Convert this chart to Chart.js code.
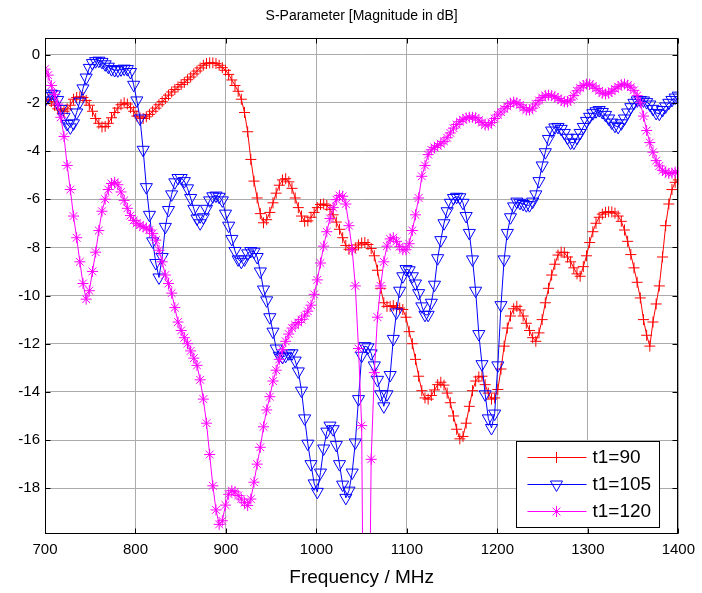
<!DOCTYPE html>
<html>
<head>
<meta charset="utf-8">
<title>S-Parameter</title>
<script src="https://cdn.jsdelivr.net/npm/chart.js@4.4.1/dist/chart.umd.min.js"></script>
<style>
  html, body { margin: 0; padding: 0; background: #fff; }
  #caixa { width: 702px; height: 593px; position: relative; }
</style>
</head>
<body>
<div id="caixa"><canvas id="grafico"></canvas></div>
<script>
// frequency sweep, MHz
const frequencias = [
  700, 703.5, 707, 710.5, 714, 717.5, 721, 724.5, 728, 731.5,
  735, 738.5, 742, 745.5, 749, 752.5, 756, 759.5, 763, 766.5,
  770, 773.5, 777, 780.5, 784, 787.5, 791, 794.5, 798, 801.5,
  805, 808.5, 812, 815.5, 819, 822.5, 826, 829.5, 833, 836.5,
  840, 843.5, 847, 850.5, 854, 857.5, 861, 864.5, 868, 871.5,
  875, 878.5, 882, 885.5, 889, 892.5, 896, 899.5, 903, 906.5,
  910, 913.5, 917, 920.5, 924, 927.5, 931, 934.5, 938, 941.5,
  945, 948.5, 952, 955.5, 959, 962.5, 966, 969.5, 973, 976.5,
  980, 983.5, 987, 990.5, 994, 997.5, 1001, 1004.5, 1008, 1011.5,
  1015, 1018.5, 1022, 1025.5, 1029, 1032.5, 1036, 1039.5, 1043, 1046.5,
  1050, 1053.5, 1057, 1060.5, 1064, 1067.5, 1071, 1074.5, 1078, 1081.5,
  1085, 1088.5, 1092, 1095.5, 1099, 1102.5, 1106, 1109.5, 1113, 1116.5,
  1120, 1123.5, 1127, 1130.5, 1134, 1137.5, 1141, 1144.5, 1148, 1151.5,
  1155, 1158.5, 1162, 1165.5, 1169, 1172.5, 1176, 1179.5, 1183, 1186.5,
  1190, 1193.5, 1197, 1200.5, 1204, 1207.5, 1211, 1214.5, 1218, 1221.5,
  1225, 1228.5, 1232, 1235.5, 1239, 1242.5, 1246, 1249.5, 1253, 1256.5,
  1260, 1263.5, 1267, 1270.5, 1274, 1277.5, 1281, 1284.5, 1288, 1291.5,
  1295, 1298.5, 1302, 1305.5, 1309, 1312.5, 1316, 1319.5, 1323, 1326.5,
  1330, 1333.5, 1337, 1340.5, 1344, 1347.5, 1351, 1354.5, 1358, 1361.5,
  1365, 1368.5, 1372, 1375.5, 1379, 1382.5, 1386, 1389.5, 1393, 1396.5,
  1400
];

// |S| in dB for t1 = 90
const t90 = [
  -1.9, -1.85, -1.95, -2.1, -2.25, -2.3, -2.35, -2.25, -2.1, -1.85,
  -1.78, -1.75, -1.78, -1.9, -2.1, -2.35, -2.65, -2.85, -3.0, -2.98,
  -2.85, -2.62, -2.4, -2.22, -2.08, -2.0, -2.05, -2.2, -2.35, -2.55,
  -2.63, -2.65, -2.58, -2.48, -2.35, -2.22, -2.08, -1.95, -1.82, -1.68,
  -1.55, -1.45, -1.34, -1.24, -1.15, -1.04, -0.93, -0.8, -0.68, -0.55,
  -0.44, -0.37, -0.34, -0.34, -0.37, -0.44, -0.54, -0.65, -0.82, -1.05,
  -1.28, -1.52, -1.85, -2.4, -3.2, -4.35, -5.25, -5.95, -6.6, -6.98,
  -6.85, -6.55, -6.15, -5.75, -5.42, -5.2, -5.15, -5.28, -5.55, -5.95,
  -6.35, -6.7, -6.92, -6.9, -6.75, -6.55, -6.35, -6.22, -6.2, -6.26,
  -6.42, -6.65, -6.95, -7.25, -7.6, -7.92, -8.08, -8.1, -8.02, -7.9,
  -7.82, -7.8, -7.88, -8.05, -8.35, -8.95, -9.7, -10.3, -10.45, -10.45,
  -10.42, -10.5, -10.52, -10.58, -10.9, -11.5, -12.0, -12.65, -13.35, -13.95,
  -14.25, -14.3, -14.15, -13.92, -13.7, -13.6, -13.72, -14.05, -14.45, -15.0,
  -15.55, -15.95, -15.85, -15.3, -14.6, -13.95, -13.55, -13.38, -13.35, -13.7,
  -14.05, -14.3, -14.25, -13.9, -13.05, -12.1, -11.35, -10.85, -10.55, -10.45,
  -10.6, -10.85, -11.15, -11.45, -11.75, -11.9, -11.55, -11.0, -10.3, -9.7,
  -9.15, -8.7, -8.32, -8.2, -8.22, -8.4, -8.6, -8.85, -9.1, -9.2,
  -8.8, -8.35, -7.8, -7.35, -7.0, -6.75, -6.62, -6.55, -6.52, -6.53,
  -6.58, -6.7, -6.92, -7.28, -7.75, -8.3, -8.85, -9.45, -10.1, -11.0,
  -11.65, -12.1, -11.1, -10.35, -9.6, -8.4, -7.1, -6.2, -5.6, -5.3,
  -5.2
];

// t1 = 105
const t105 = [
  -1.9, -1.72, -1.62, -1.65, -1.88, -2.25, -2.58, -2.88, -3.02, -2.85,
  -2.4, -1.95, -1.4, -0.95, -0.55, -0.35, -0.27, -0.25, -0.3, -0.4,
  -0.5, -0.6, -0.64, -0.65, -0.61, -0.58, -0.6, -0.72, -1.25, -1.9,
  -2.65, -3.95, -5.5, -6.65, -7.75, -8.65, -9.25, -8.4, -7.15, -6.45,
  -5.8, -5.3, -5.12, -5.12, -5.25, -5.55, -5.95, -6.4, -6.8, -7.0,
  -6.75, -6.4, -6.05, -5.88, -5.85, -5.9, -6.05, -6.6, -7.1, -7.65,
  -8.15, -8.5, -8.6, -8.5, -8.25, -8.15, -8.18, -8.4, -9.0, -9.75,
  -10.2, -10.9, -11.5, -12.2, -12.5, -12.55, -12.5, -12.4, -12.4, -12.7,
  -13.15, -13.95, -15.1, -16.15, -17.0, -17.8, -18.15, -17.35, -16.35, -15.65,
  -15.4, -15.55, -16.2, -17.0, -17.85, -18.4, -18.1, -17.35, -16.1, -14.3,
  -12.5, -12.1, -12.15, -12.4, -12.9, -13.5, -14.1, -14.6, -14.1, -13.3,
  -11.8, -10.7, -9.8, -9.2, -8.9, -8.95, -9.2, -9.5, -9.9, -10.45,
  -10.8, -10.8, -10.3, -9.55, -8.45, -7.7, -7.0, -6.5, -6.15, -5.95,
  -5.9, -5.92, -6.15, -6.7, -7.4, -8.5, -9.8, -11.6, -12.85, -14.1,
  -15.1, -15.5, -14.9, -12.9, -10.4, -8.5, -7.4, -6.75, -6.3, -6.1,
  -6.15, -6.2, -6.25, -6.25, -6.1, -5.8, -5.25, -4.6, -4.05, -3.5,
  -3.15, -3.02, -3.0, -3.08, -3.25, -3.45, -3.65, -3.65, -3.45, -3.25,
  -3.0, -2.75, -2.58, -2.43, -2.35, -2.3, -2.38, -2.5, -2.65, -2.82,
  -2.95, -3.0, -2.85, -2.65, -2.4, -2.18, -2.0, -1.9, -1.88, -1.9,
  -1.97, -2.07, -2.25, -2.42, -2.45, -2.3, -2.15, -2.0, -1.88, -1.78,
  -1.7
];

// t1 = 120 (the notch near 1055 MHz goes below the axis)
const t120 = [
  -0.6, -0.85, -1.28, -1.65, -2.05, -2.6, -3.4, -4.6, -5.6, -6.7,
  -7.6, -8.6, -9.5, -10.15, -9.8, -9.0, -8.2, -7.3, -6.5, -6.0,
  -5.6, -5.35, -5.3, -5.4, -5.7, -6.05, -6.38, -6.68, -6.88, -7.0,
  -7.08, -7.15, -7.2, -7.28, -7.42, -7.7, -8.12, -8.6, -9.15, -9.5,
  -9.9, -10.5, -11.1, -11.45, -11.75, -12.0, -12.3, -12.6, -12.9, -13.5,
  -14.3, -15.3, -16.6, -17.9, -18.9, -19.5, -19.35, -18.7, -18.25, -18.1,
  -18.15, -18.3, -18.45, -18.6, -18.72, -18.45, -17.75, -17.0, -16.3, -15.45,
  -14.75, -14.2, -13.55, -13.1, -12.65, -12.25, -11.9, -11.6, -11.35, -11.22,
  -11.12, -11.0, -10.85, -10.65, -10.4, -9.95, -9.35, -8.65, -7.95, -7.35,
  -6.8, -6.35, -6.02, -5.85, -5.88, -6.2, -7.1, -8.1, -9.6, -12.2,
  -15.4, -32.0, -30.0, -16.8, -13.2, -10.9, -9.6, -8.6, -7.95, -7.65,
  -7.6, -7.75, -7.97, -8.1, -8.1, -7.85, -7.3, -6.65, -5.95, -5.05,
  -4.6, -4.15, -3.95, -3.85, -3.78, -3.7, -3.6, -3.45, -3.25, -3.05,
  -2.9, -2.78, -2.7, -2.63, -2.6, -2.6, -2.62, -2.72, -2.82, -2.92,
  -2.92, -2.82, -2.65, -2.5, -2.38, -2.25, -2.15, -2.02, -1.97, -2.0,
  -2.08, -2.2, -2.3, -2.3, -2.22, -2.05, -1.9, -1.78, -1.7, -1.68,
  -1.7, -1.75, -1.82, -1.9, -1.96, -1.96, -1.88, -1.7, -1.5, -1.38,
  -1.28, -1.22, -1.23, -1.3, -1.4, -1.5, -1.6, -1.63, -1.6, -1.52,
  -1.42, -1.33, -1.25, -1.22, -1.27, -1.35, -1.48, -1.7, -2.0, -2.55,
  -3.15, -3.65, -4.05, -4.4, -4.62, -4.8, -4.88, -4.93, -4.92, -4.88,
  -4.88
];

const ticksX = [700, 800, 900, 1000, 1100, 1200, 1300, 1400];
const ticksY = [0, -2, -4, -6, -8, -10, -12, -14, -16, -18];

const fonte = "'Liberation Sans', Arial, sans-serif";
const corGrade = '#ababab';

Chart.defaults.font.family = fonte;
Chart.defaults.color = '#000';

// MATLAB-like box with inward ticks on all four sides
const moldura = {
    id: 'moldura',
    afterDatasetsDraw(chart) {
        const {ctx, chartArea: a, scales} = chart;
        const l = Math.round(a.left) + 0.5, r = Math.round(a.right) - 0.5;
        const t = Math.round(a.top) + 0.5, b = Math.round(a.bottom) - 0.5;
        ctx.save();
        ctx.strokeStyle = '#000';
        ctx.lineWidth = 1;
        ctx.strokeRect(l, t, r - l, b - t);
        ctx.beginPath();
        ticksX.forEach(v => {
            const x = Math.round(scales.x.getPixelForValue(v)) + 0.5;
            ctx.moveTo(x, b); ctx.lineTo(x, b - 5);
            ctx.moveTo(x, t); ctx.lineTo(x, t + 5);
        });
        ticksY.forEach(v => {
            const y = Math.round(scales.y.getPixelForValue(v)) + 0.5;
            ctx.moveTo(l, y); ctx.lineTo(l + 5, y);
            ctx.moveTo(r, y); ctx.lineTo(r - 5, y);
        });
        ctx.stroke();
        ctx.restore();
    }
};

// legend box in the lower right corner of the axes
const legenda = {
    id: 'legenda',
    afterDraw(chart) {
        const {ctx, chartArea: a} = chart;
        const w = 143, h = 86;
        const x0 = Math.round(a.right - 19 - w) + 0.5;
        const y0 = Math.round(a.bottom - 7 - h) + 0.5;
        ctx.save();
        ctx.fillStyle = '#fff';
        ctx.fillRect(x0, y0, w, h);
        ctx.strokeStyle = '#000';
        ctx.lineWidth = 1;
        ctx.strokeRect(x0, y0, w, h);
        chart.data.datasets.forEach((ds, i) => {
            const y = Math.round(y0 + 15.5 + i * 27);
            ctx.strokeStyle = ds.borderColor;
            ctx.lineWidth = 1;
            ctx.beginPath();
            ctx.moveTo(x0 + 11, y + 0.5);
            ctx.lineTo(x0 + 70, y + 0.5);
            ctx.stroke();
            ctx.fillStyle = 'rgba(0,0,0,0)';
            Chart.helpers.drawPoint(ctx, {
                pointStyle: ds.pointStyle,
                rotation: ds.pointRotation || 0,
                radius: ds.pointRadius,
                borderWidth: 1
            }, x0 + 40, y + 0.5);
            ctx.fillStyle = '#000';
            ctx.font = '19px ' + fonte;
            ctx.textBaseline = 'middle';
            ctx.textAlign = 'left';
            ctx.fillText(ds.label, x0 + 76, y + 1);
        });
        ctx.restore();
    }
};

function montarGrafico() {
    const graf = document.getElementById('grafico').getContext('2d');

    const serie = (label, data, cor, estilo, raio, ordem, rot) => ({
        label: label,
        data: data,
        borderColor: cor,
        backgroundColor: cor,
        borderWidth: 1,
        tension: 0,
        pointStyle: estilo,
        pointRotation: rot || 0,
        pointRadius: raio,
        pointBorderWidth: 1,
        pointBorderColor: cor,
        pointBackgroundColor: 'rgba(0,0,0,0)',
        order: ordem
    });

    new Chart(graf, {
        type: 'line',
        data: {
            labels: frequencias,
            datasets: [
                serie('t1=90', t90, '#ff0000', 'cross', 5.5, 3),
                serie('t1=105', t105, '#0000ff', 'triangle', 7, 2, 180),
                serie('t1=120', t120, '#ff00ff', 'star', 5.5, 1)
            ]
        },
        options: {
            responsive: true,
            maintainAspectRatio: false,
            animation: false,
            events: [],
            layout: { padding: { top: 0, right: 23, bottom: 0, left: 0 } },
            scales: {
                x: {
                    type: 'linear',
                    min: 700,
                    max: 1400,
                    afterBuildTicks: s => { s.ticks = ticksX.map(v => ({ value: v })); },
                    afterFit: s => { s.height = 59; },
                    grid: { color: corGrade, drawTicks: false },
                    border: { display: false },
                    ticks: {
                        padding: 7,
                        maxRotation: 0,
                        autoSkip: false,
                        font: { size: 15 },
                        callback: v => String(v)
                    },
                    title: {
                        display: true,
                        text: 'Frequency / MHz',
                        font: { size: 19 },
                        padding: { top: 0, bottom: 4 }
                    }
                },
                y: {
                    type: 'linear',
                    min: -19.9,
                    max: 0.7,
                    afterBuildTicks: s => { s.ticks = ticksY.map(v => ({ value: v })); },
                    afterFit: s => { s.width = 45; },
                    grid: { color: corGrade, drawTicks: false },
                    border: { display: false },
                    ticks: {
                        padding: 5,
                        autoSkip: false,
                        font: { size: 15 },
                        callback: v => String(v)
                    }
                }
            },
            plugins: {
                legend: { display: false },
                tooltip: { enabled: false },
                title: {
                    display: true,
                    text: 'S-Parameter [Magnitude in dB]',
                    fullSize: false,
                    font: { size: 14, weight: 'normal' },
                    padding: { top: 8, bottom: 13 }
                }
            }
        },
        plugins: [moldura, legenda]
    });
}

montarGrafico();
</script>
</body>
</html>
